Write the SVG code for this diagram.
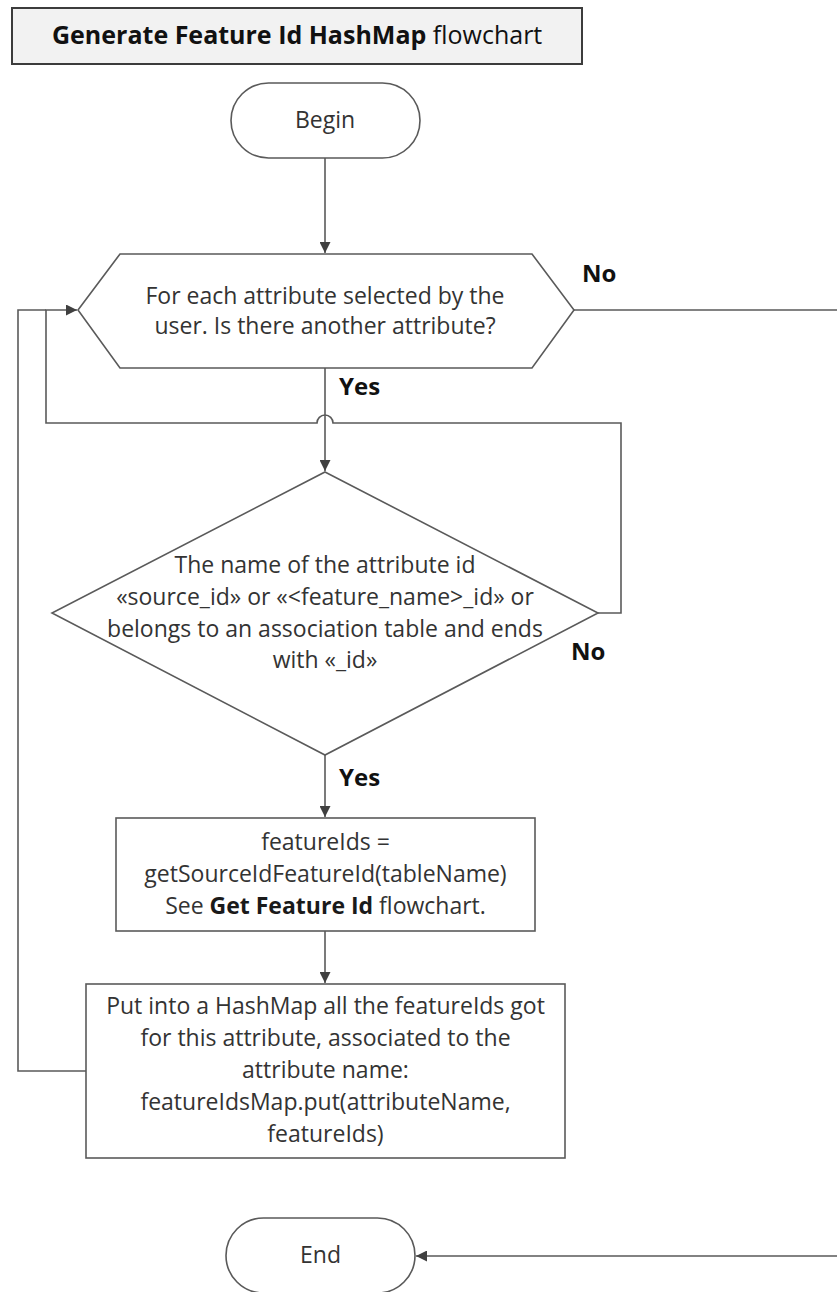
<svg xmlns="http://www.w3.org/2000/svg" width="837" height="1292" viewBox="0 0 837 1292">
  <style>
    .shape { fill: #ffffff; stroke: #5a5a5a; stroke-width: 1.6; }
    .title { fill: #f2f2f2; stroke: #3c3c3c; stroke-width: 2; }
    .txt { font-family: "Open Sans", "Liberation Sans", sans-serif; font-size: 23px; fill: #333333; text-anchor: middle; }
    .ttl { font-family: "Open Sans", "Liberation Sans", sans-serif; font-size: 25px; fill: #111111; }
    .lbl { font-family: "Open Sans", "Liberation Sans", sans-serif; font-size: 24px; font-weight: bold; fill: #111111; }
    .b { font-weight: bold; fill: #1a1a1a; }
    .wire { fill: none; stroke: #5a5a5a; stroke-width: 1.6; }
  </style>
  <defs>
    <marker id="arrow" viewBox="0 0 10 10" refX="10" refY="5" markerWidth="11" markerHeight="11" markerUnits="userSpaceOnUse" orient="auto">
      <path d="M0,0 L10,5 L0,10 Z" fill="#404040"/>
    </marker>
  </defs>

  <!-- heading -->
  <g id="heading">
    <rect class="title" x="12" y="8" width="570" height="56"/>
    <text class="ttl" x="52" y="44"><tspan font-weight="bold">Generate Feature Id HashMap</tspan> flowchart</text>
  </g>

  <!-- connectors -->
  <g id="connectors">
    <path class="wire" d="M325,158 V253" marker-end="url(#arrow)"/>
    <path class="wire" d="M325,368 V471" marker-end="url(#arrow)"/>
    <path class="wire" d="M574,310 H845 V1256 H416" marker-end="url(#arrow)"/>
    <path class="wire" d="M598,613 H621 V423 H333 A8,8 0 0 0 317,423 H46 V310 H77" marker-end="url(#arrow)"/>
    <path class="wire" d="M86,1071 H18 V310 H46"/>
    <path class="wire" d="M325,755 V817" marker-end="url(#arrow)"/>
    <path class="wire" d="M325,931 V983" marker-end="url(#arrow)"/>
  </g>

  <!-- connector labels -->
  <g id="labels">
    <text class="lbl" x="582" y="282">No</text>
    <text class="lbl" x="339" y="395">Yes</text>
    <text class="lbl" x="571" y="660">No</text>
    <text class="lbl" x="339" y="786">Yes</text>
  </g>

  <g id="begin">
    <rect class="shape" x="231" y="83" width="189" height="75" rx="37.5" ry="37.5"/>
    <text class="txt" x="325" y="128">Begin</text>
  </g>

  <g id="loop-check">
    <polygon class="shape" points="78,310 120,254 532,254 574,310 532,368 120,368"/>
    <text class="txt" x="325" y="304">For each attribute selected by the</text>
    <text class="txt" x="325" y="334">user. Is there another attribute?</text>
  </g>

  <g id="name-check">
    <polygon class="shape" points="325,472 598,613 325,755 52,613"/>
    <text class="txt" x="325" y="573">The name of the attribute id</text>
    <text class="txt" x="325" y="605">«source_id» or «&lt;feature_name&gt;_id» or</text>
    <text class="txt" x="325" y="637">belongs to an association table and ends</text>
    <text class="txt" x="325" y="668">with «_id»</text>
  </g>

  <g id="get-ids">
    <rect class="shape" x="116" y="818" width="419" height="113"/>
    <text class="txt" x="325.5" y="850">featureIds =</text>
    <text class="txt" x="325.5" y="882">getSourceIdFeatureId(tableName)</text>
    <text class="txt" x="325.5" y="914">See <tspan class="b">Get Feature Id</tspan> flowchart.</text>
  </g>

  <g id="put-map">
    <rect class="shape" x="86" y="984" width="479" height="174"/>
    <text class="txt" x="325.5" y="1014">Put into a HashMap all the featureIds got</text>
    <text class="txt" x="325.5" y="1046">for this attribute, associated to the</text>
    <text class="txt" x="325.5" y="1078">attribute name:</text>
    <text class="txt" x="325.5" y="1110">featureIdsMap.put(attributeName,</text>
    <text class="txt" x="325.5" y="1142">featureIds)</text>
  </g>

  <g id="end">
    <rect class="shape" x="226" y="1218" width="189" height="75" rx="37.5" ry="37.5"/>
    <text class="txt" x="320.5" y="1263">End</text>
  </g>
</svg>
